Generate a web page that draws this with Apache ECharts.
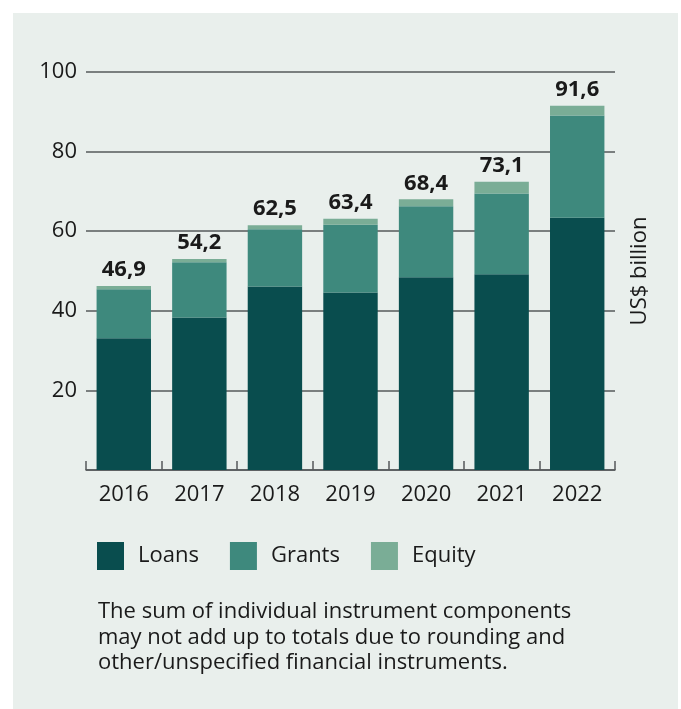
<!DOCTYPE html>
<html>
	<head>
		<meta charset="utf-8" />
		<title>Instruments</title>
		<style>
			body { margin: 0; background: #ffffff; }
			#panel { position: absolute; left: 13px; top: 13px; width: 665px; height: 696px; background: #e9efec; }
			#main { position: absolute; left: 0; top: 0; width: 681px; height: 709px; }
		</style>
	</head>
	<body>
		<div id="panel"></div>
		<div id="main"></div>
		<script type="text/javascript" src="https://cdn.jsdelivr.net/npm/echarts@6/dist/echarts.min.js"></script>
		<script type="text/javascript">
			// data
			var years = ['2016', '2017', '2018', '2019', '2020', '2021', '2022'];
			var loans = [33.1, 38.3, 46.1, 44.6, 48.4, 49.2, 63.4];
			var grants = [12.3, 13.9, 14.4, 17.0, 17.9, 20.3, 25.7];
			var equity = [0.8, 0.8, 1.0, 1.5, 1.7, 2.9, 2.4];
			var totals = ['46,9', '54,2', '62,5', '63,4', '68,4', '73,1', '91,6'];

			var font = '"Open Sans", "Noto Sans", sans-serif';
			var ink = '#1a1a1a';

			var option = {
				animation: false,
				textStyle: { fontFamily: font },
				grid: { left: 86, right: 66, top: 72, bottom: 239 },
				legend: {
					left: 97,
					top: 542,
					padding: 0,
					itemWidth: 27,
					itemHeight: 28,
					itemGap: 31,
					icon: 'rect',
					textStyle: { fontSize: 22, color: ink, fontFamily: font, padding: [12, 0, 0, 9] },
					data: ['Loans', 'Grants', 'Equity']
				},
				xAxis: {
					type: 'category',
					data: years,
					axisLine: { lineStyle: { color: '#555a5b', width: 1.5 } },
					axisTick: { show: true, inside: true, length: 9, lineStyle: { color: '#555a5b', width: 1.5 } },
					axisLabel: { fontSize: 22, color: ink, margin: 14, fontFamily: font }
				},
				yAxis: [{
					type: 'value',
					min: 0,
					max: 100,
					interval: 20,
					axisLine: { show: false },
					axisTick: { show: false },
					axisLabel: {
						fontSize: 22, color: ink, margin: 9, fontFamily: font,
						formatter: function(v) { return v === 0 ? '' : v; }
					},
					splitLine: { lineStyle: { color: '#555a5b', width: 1.5 } }
				}, {
					type: 'value',
					position: 'right',
					min: 0,
					max: 100,
					interval: 20,
					name: 'US$ billion',
					nameLocation: 'middle',
					nameRotate: 90,
					nameGap: 14,
					nameTextStyle: { fontSize: 22, color: ink, fontFamily: font },
					axisLine: { show: false },
					axisTick: { show: false },
					axisLabel: { show: false },
					splitLine: { show: false }
				}],
				series: [{
					name: 'Loans',
					type: 'bar',
					stack: 'all',
					barWidth: '72%',
					itemStyle: { color: '#094d4e' },
					data: loans
				}, {
					name: 'Grants',
					type: 'bar',
					stack: 'all',
					itemStyle: { color: '#3e897d' },
					data: grants
				}, {
					name: 'Equity',
					type: 'bar',
					stack: 'all',
					itemStyle: { color: '#7aad96' },
					label: {
						show: true,
						position: 'top',
						distance: 5,
						fontSize: 22,
						fontWeight: 'bold',
						color: ink,
						fontFamily: font,
						formatter: function(p) { return totals[p.dataIndex]; }
					},
					data: equity
				}],
				graphic: [{
					type: 'text',
					left: 98,
					top: 599,
					style: {
						text: 'The sum of individual instrument components\nmay not add up to totals due to rounding and\nother/unspecified financial instruments.',
						fontSize: 22,
						lineHeight: 25.5,
						fill: ink,
						fontFamily: font
					}
				}]
			};

			var myChart = echarts.init(document.getElementById('main'));
			myChart.setOption(option);
		</script>
	</body>
</html>
